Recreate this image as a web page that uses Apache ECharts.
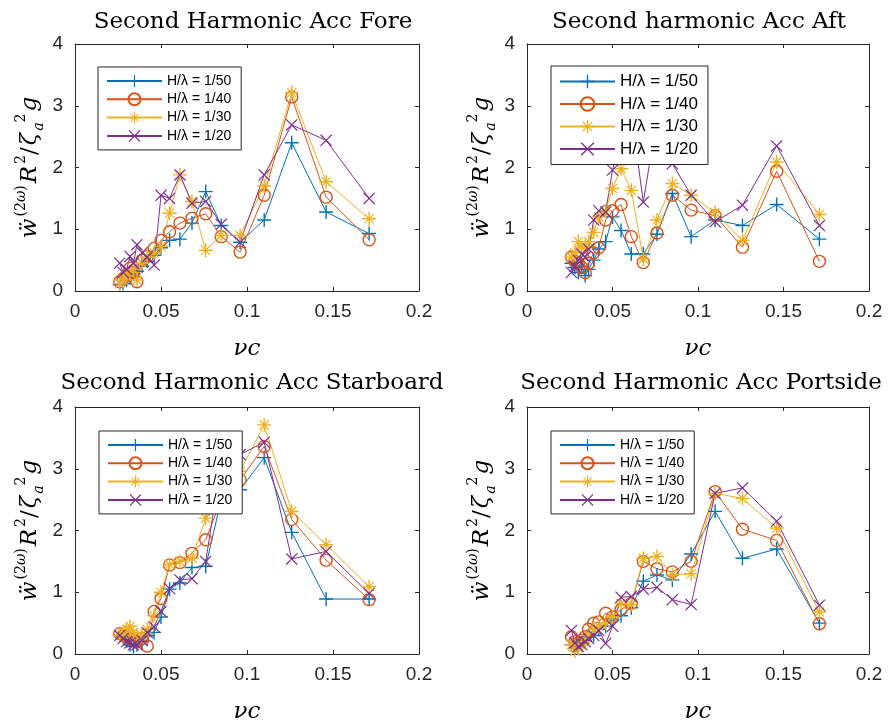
<!DOCTYPE html>
<html>
<head>
<meta charset="utf-8">
<script src="https://cdn.jsdelivr.net/npm/echarts@6/dist/echarts.min.js"></script>
<style>
  html, body { margin: 0; padding: 0; background: #fff; }
  #chart { width: 888px; height: 727px; }
</style>
</head>
<body>
<div id="chart"></div>
<script>
// wave frequency nu*c, same test points for every run
const nuC = [0.026, 0.028, 0.030, 0.032, 0.034, 0.036, 0.039, 0.042, 0.046, 0.050,
             0.055, 0.061, 0.068, 0.076, 0.085, 0.096, 0.110, 0.126, 0.146, 0.171];

const seriesNames = ['H/λ = 1/50', 'H/λ = 1/40', 'H/λ = 1/30', 'H/λ = 1/20'];
const titles = ['Second Harmonic Acc Fore', 'Second harmonic Acc Aft',
                'Second Harmonic Acc Starboard', 'Second Harmonic Acc Portside'];
const xTicks = [0, 0.05, 0.1, 0.15, 0.2];
const yTicks = [0, 1, 2, 3, 4];

// Fore
const foreH50 = [0.10, 0.12, 0.18, 0.22, 0.28, 0.32, 0.40, 0.48, 0.58, 0.70, 0.82, 0.84, 1.10, 1.61, 1.06, 0.79, 1.15, 2.40, 1.28, 0.93];
const foreH40 = [0.15, 0.20, 0.25, 0.37, 0.30, 0.15, 0.50, 0.56, 0.69, 0.82, 0.96, 1.10, 1.18, 1.25, 0.88, 0.63, 1.55, 3.14, 1.52, 0.83];
const foreH30 = [0.12, 0.18, 0.25, 0.30, 0.35, 0.18, 0.45, 0.55, 0.62, 0.72, 1.26, 1.88, 1.45, 0.66, 0.90, 0.90, 1.70, 3.21, 1.77, 1.17];
const foreH20 = [0.45, 0.30, 0.35, 0.56, 0.45, 0.75, 0.62, 0.55, 0.42, 1.55, 1.50, 1.88, 1.42, 1.45, 1.08, 0.79, 1.88, 2.69, 2.44, 1.50];

// Aft
const aftH50 = [0.45, 0.38, 0.30, 0.40, 0.25, 0.35, 0.50, 0.68, 0.80, 1.20, 0.98, 0.60, 0.60, 0.92, 1.58, 0.88, 1.15, 1.06, 1.40, 0.84];
const aftH40 = [0.55, 0.48, 0.45, 0.38, 0.30, 0.45, 0.62, 0.70, 1.15, 1.30, 1.40, 0.88, 0.46, 0.94, 1.55, 1.31, 1.22, 0.71, 1.94, 0.48];
const aftH30 = [0.55, 0.62, 0.80, 0.70, 0.72, 0.80, 0.95, 1.20, 1.30, 1.66, 1.98, 1.63, 0.52, 1.15, 1.74, 1.55, 1.27, 0.82, 2.09, 1.24];
const aftH20 = [0.30, 0.40, 0.50, 0.60, 0.55, 0.68, 1.15, 1.30, 1.28, 1.96, 2.60, 2.90, 1.44, 2.80, 2.06, 1.55, 1.12, 1.39, 2.35, 1.06];

// Starboard
const stbdH50 = [0.30, 0.28, 0.22, 0.15, 0.12, 0.15, 0.20, 0.30, 0.35, 0.60, 1.05, 1.15, 1.40, 1.42, 2.50, 2.66, 3.18, 1.97, 0.89, 0.89];
const stbdH40 = [0.33, 0.30, 0.28, 0.25, 0.22, 0.20, 0.25, 0.13, 0.69, 0.90, 1.44, 1.48, 1.63, 1.85, 2.50, 2.82, 3.36, 2.18, 1.52, 0.88];
const stbdH30 = [0.30, 0.32, 0.40, 0.45, 0.35, 0.30, 0.30, 0.40, 0.62, 1.00, 1.45, 1.50, 1.55, 2.20, 2.90, 2.96, 3.71, 2.31, 1.77, 1.09];
const stbdH20 = [0.30, 0.25, 0.20, 0.18, 0.15, 0.15, 0.22, 0.35, 0.44, 0.69, 1.06, 1.20, 1.22, 1.50, 3.10, 3.23, 3.43, 1.54, 1.66, 0.98];

// Portside
const portH50 = [0.15, 0.10, 0.12, 0.18, 0.22, 0.28, 0.30, 0.40, 0.45, 0.55, 0.62, 0.75, 1.18, 1.28, 1.20, 1.62, 2.31, 1.55, 1.70, 0.50];
const portH40 = [0.28, 0.20, 0.18, 0.22, 0.28, 0.40, 0.50, 0.52, 0.66, 0.60, 0.72, 0.82, 1.50, 1.38, 1.33, 1.50, 2.63, 2.02, 1.84, 0.49];
const portH30 = [0.15, 0.05, 0.10, 0.15, 0.20, 0.30, 0.40, 0.45, 0.50, 0.60, 0.82, 0.80, 1.55, 1.58, 1.28, 1.30, 2.60, 2.52, 2.04, 0.68];
const portH20 = [0.38, 0.18, 0.12, 0.15, 0.20, 0.25, 0.30, 0.38, 0.17, 0.45, 0.92, 0.93, 1.05, 1.08, 0.88, 0.80, 2.60, 2.69, 2.15, 0.79];

// matlab default line colours
const colors = ['#0072BD', '#D95319', '#EDB120', '#7E2F8E'];

// markers + o * x  (drawn as thin filled shapes so they look stroked)
const plusSym = 'path://M0,4.5H10V5.5H0Z M4.5,0H5.5V10H4.5Z';
const crossSym = 'path://M0.7,0L5,4.3L9.3,0L10,0.7L5.7,5L10,9.3L9.3,10L5,5.7L0.7,10L0,9.3L4.3,5L0,0.7Z';
const starSym = 'path://M0,4.5H10V5.5H0Z M4.5,0H5.5V10H4.5Z ' +
  'M2,1.4L5,4.4L8,1.4L8.6,2L5.6,5L8.6,8L8,8.6L5,5.6L2,8.6L1.4,8L4.4,5L1.4,2Z';
const markers = [
  { symbol: plusSym, size: 14 },
  { symbol: 'circle', size: 12 },
  { symbol: starSym, size: 14 },
  { symbol: crossSym, size: 12 }
];

const panels = [
  { data: [foreH50, foreH40, foreH30, foreH20], grid: { left: 75, top: 44, width: 344, height: 247 },
    legend: { left: 98, top: 67, font: 14, ih: 15, gap: 4.3 }, tx: 248, ty: 6 },
  { data: [aftH50, aftH40, aftH30, aftH20], grid: { left: 527, top: 44, width: 342, height: 247 },
    legend: { left: 551, top: 66, font: 17, ih: 17, gap: 5.5 }, tx: 694, ty: 6 },
  { data: [stbdH50, stbdH40, stbdH30, stbdH20], grid: { left: 75, top: 407, width: 344, height: 247 },
    legend: { left: 99, top: 431, font: 14, ih: 15, gap: 4.3 }, tx: 247, ty: 367 },
  { data: [portH50, portH40, portH30, portH20], grid: { left: 527, top: 407, width: 342, height: 247 },
    legend: { left: 551, top: 431, font: 14, ih: 15, gap: 4.3 }, tx: 696, ty: 367 }
];

const axisColor = '#262626';
const sans = 'Liberation Sans';
const serif = 'DejaVu Serif';

const yName = '{m|ẅ}{s|(2}{si|ω}{s|)}{m|R}{s|2}{r|/}{m|ζ}{b|a}{s|2}{m|g}';
const yRich = {
  m: { fontFamily: serif, fontStyle: 'italic', fontSize: 23, lineHeight: 32, color: '#000', padding: [0, 2, 0, 2] },
  r: { fontFamily: serif, fontSize: 23, lineHeight: 32, color: '#000' },
  s: { fontFamily: serif, fontSize: 14, lineHeight: 18, verticalAlign: 'top', color: '#000' },
  si: { fontFamily: serif, fontStyle: 'italic', fontSize: 14, lineHeight: 18, verticalAlign: 'top', color: '#000' },
  b: { fontFamily: serif, fontStyle: 'italic', fontSize: 14, lineHeight: 14, verticalAlign: 'bottom', color: '#000' }
};

const grid = [], xAxis = [], yAxis = [], legend = [], title = [], series = [];

panels.forEach((p, i) => {
  grid.push(p.grid);
  title.push({
    text: titles[i], left: p.tx, top: p.ty, textAlign: 'center',
    textStyle: { fontFamily: serif, fontWeight: 'normal', fontSize: 23, color: '#000' }
  });
  const xBase = {
    type: 'value', gridIndex: i, min: xTicks[0], max: xTicks[xTicks.length - 1],
    interval: xTicks[1] - xTicks[0],
    axisLine: { show: true, onZero: false, lineStyle: { color: axisColor, width: 1 } },
    axisTick: { show: true, inside: true, length: 4, lineStyle: { color: axisColor } },
    splitLine: { show: false }
  };
  const yBase = {
    type: 'value', gridIndex: i, min: yTicks[0], max: yTicks[yTicks.length - 1],
    interval: yTicks[1] - yTicks[0],
    axisLine: { show: true, onZero: false, lineStyle: { color: axisColor, width: 1 } },
    axisTick: { show: true, inside: true, length: 4, lineStyle: { color: axisColor } },
    splitLine: { show: false }
  };
  xAxis.push(Object.assign({}, xBase, {
    position: 'bottom',
    axisLabel: { fontFamily: sans, fontSize: 19, color: axisColor, margin: 11 },
    name: 'νc', nameLocation: 'middle', nameGap: 47,
    nameTextStyle: { fontFamily: serif, fontStyle: 'italic', fontSize: 23, color: '#000' }
  }));
  xAxis.push(Object.assign({}, xBase, { position: 'top', axisLabel: { show: false } }));
  yAxis.push(Object.assign({}, yBase, {
    position: 'left',
    axisLabel: { fontFamily: sans, fontSize: 19, color: axisColor, margin: 12 },
    name: yName, nameLocation: 'middle', nameGap: 29,
    nameTextStyle: { rich: yRich }
  }));
  yAxis.push(Object.assign({}, yBase, { position: 'right', axisLabel: { show: false } }));

  legend.push({
    data: seriesNames, orient: 'vertical', left: p.legend.left, top: p.legend.top,
    itemWidth: 55, itemHeight: p.legend.ih, itemGap: p.legend.gap,
    padding: [7, 10, 7, 8], borderColor: axisColor, borderWidth: 1, borderRadius: 0,
    backgroundColor: '#fff', selectedMode: false, z: 20,
    textStyle: { fontFamily: sans, fontSize: p.legend.font, color: '#000' }
  });

  p.data.forEach((vals, k) => {
    const isCircle = markers[k].symbol === 'circle';
    series.push({
      type: 'line', name: seriesNames[k],
      xAxisIndex: i * 2, yAxisIndex: i * 2,
      data: nuC.map((x, j) => [x, vals[j]]),
      symbol: markers[k].symbol, symbolSize: markers[k].size,
      showAllSymbol: true,
      lineStyle: { color: colors[k], width: 1 },
      itemStyle: isCircle
        ? { color: 'rgba(0,0,0,0)', borderColor: colors[k], borderWidth: 1.4 }
        : { color: colors[k], borderWidth: 0 },
      emphasis: { disabled: true },
      z: 2
    });
  });
});

const chart = echarts.init(document.getElementById('chart'));
chart.setOption({
  animation: false,
  backgroundColor: '#fff',
  title, grid, xAxis, yAxis, legend, series
});
</script>
</body>
</html>
